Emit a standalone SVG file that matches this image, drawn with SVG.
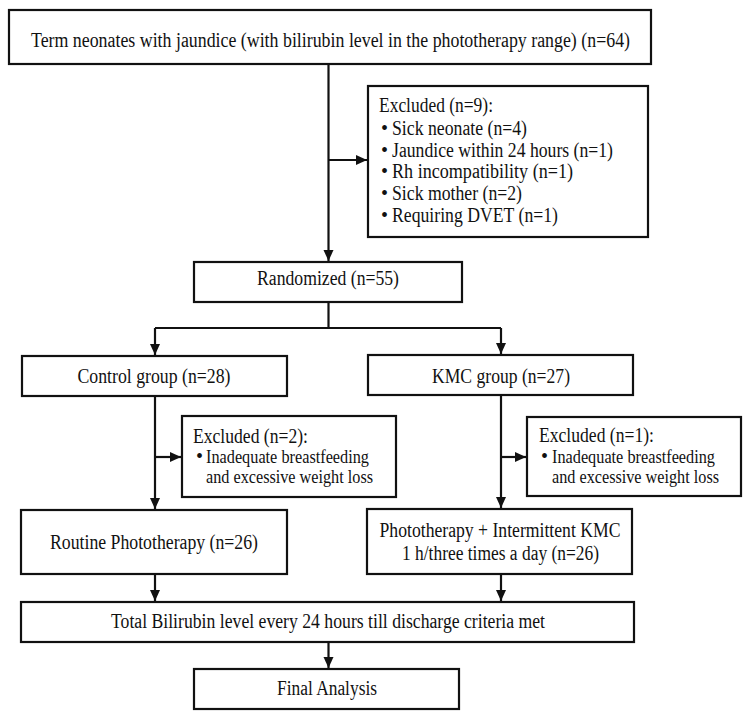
<svg xmlns="http://www.w3.org/2000/svg" width="750" height="726" viewBox="0 0 750 726">
<defs>
<style>
.box{fill:#fff;stroke:#111;stroke-width:2.2}
.ln{fill:none;stroke:#111;stroke-width:2.2}
text{font-family:"Liberation Serif","Times New Roman",serif;font-size:20px;fill:#111}
.c{text-anchor:middle}
.s{font-size:18px}
</style>
<marker id="ah" markerUnits="userSpaceOnUse" markerWidth="12" markerHeight="12" viewBox="0 0 12 12" refX="11" refY="6" orient="auto">
<path d="M0,1 L11,6 L0,11 Z" fill="#111"/>
</marker>
</defs>
<rect width="750" height="726" fill="#fff"/>
<g id="connectors">
<path class="ln" d="M328.5,64 V261" marker-end="url(#ah)"/>
<path class="ln" d="M328.5,160 H367" marker-end="url(#ah)"/>
<path class="ln" d="M328.5,302 V328 M155,328 H501"/>
<path class="ln" d="M155,328 V355" marker-end="url(#ah)"/>
<path class="ln" d="M501,328 V354" marker-end="url(#ah)"/>
<path class="ln" d="M155,396 V509" marker-end="url(#ah)"/>
<path class="ln" d="M155,457 H181" marker-end="url(#ah)"/>
<path class="ln" d="M501,395 V508" marker-end="url(#ah)"/>
<path class="ln" d="M501,457 H526" marker-end="url(#ah)"/>
<path class="ln" d="M155,574 V601" marker-end="url(#ah)"/>
<path class="ln" d="M501,574 V601" marker-end="url(#ah)"/>
<path class="ln" d="M328.5,642 V668" marker-end="url(#ah)"/>
</g>
<g id="n-term">
<rect class="box" x="9" y="10" width="642" height="54"/>
<text class="c" x="330.5" y="47" textLength="599" lengthAdjust="spacingAndGlyphs">Term neonates with jaundice (with bilirubin level in the phototherapy range) (n=64)</text>
</g>
<g id="n-excl9">
<rect class="box" x="368" y="86" width="280" height="151"/>
<text x="379" y="112" textLength="114" lengthAdjust="spacingAndGlyphs">Excluded (n=9):</text>
<text x="381" y="134.5">•</text><text x="392" y="134.5" textLength="135" lengthAdjust="spacingAndGlyphs">Sick neonate (n=4)</text>
<text x="381" y="156.5">•</text><text x="392" y="156.5" textLength="221" lengthAdjust="spacingAndGlyphs">Jaundice within 24 hours (n=1)</text>
<text x="381" y="178">•</text><text x="392" y="178" textLength="181" lengthAdjust="spacingAndGlyphs">Rh incompatibility (n=1)</text>
<text x="381" y="199.5">•</text><text x="392" y="199.5" textLength="130" lengthAdjust="spacingAndGlyphs">Sick mother (n=2)</text>
<text x="381" y="221.5">•</text><text x="392" y="221.5" textLength="166" lengthAdjust="spacingAndGlyphs">Requiring DVET (n=1)</text>
</g>
<g id="n-random">
<rect class="box" x="194" y="262" width="268" height="40"/>
<text class="c" x="328" y="285" textLength="142" lengthAdjust="spacingAndGlyphs">Randomized (n=55)</text>
</g>
<g id="n-control">
<rect class="box" x="22" y="356" width="265" height="40"/>
<text class="c" x="154" y="382.5" textLength="153" lengthAdjust="spacingAndGlyphs">Control group (n=28)</text>
</g>
<g id="n-kmc">
<rect class="box" x="368" y="355" width="265" height="40"/>
<text class="c" x="501" y="382.5" textLength="138" lengthAdjust="spacingAndGlyphs">KMC group (n=27)</text>
</g>
<g id="n-excl2">
<rect class="box" x="182" y="416" width="214" height="81"/>
<text x="193" y="443" textLength="115" lengthAdjust="spacingAndGlyphs">Excluded (n=2):</text>
<text x="196" y="463">•</text><text class="s" x="206" y="463" textLength="163" lengthAdjust="spacingAndGlyphs">Inadequate breastfeeding</text>
<text class="s" x="206" y="483" textLength="167" lengthAdjust="spacingAndGlyphs">and excessive weight loss</text>
</g>
<g id="n-excl1">
<rect class="box" x="527" y="417" width="214" height="79"/>
<text x="539" y="442" textLength="115" lengthAdjust="spacingAndGlyphs">Excluded (n=1):</text>
<text x="541" y="463">•</text><text class="s" x="552" y="463" textLength="163" lengthAdjust="spacingAndGlyphs">Inadequate breastfeeding</text>
<text class="s" x="552" y="483" textLength="167" lengthAdjust="spacingAndGlyphs">and excessive weight loss</text>
</g>
<g id="n-routine">
<rect class="box" x="21" y="510" width="266" height="64"/>
<text class="c" x="154" y="549" textLength="208" lengthAdjust="spacingAndGlyphs">Routine Phototherapy (n=26)</text>
</g>
<g id="n-photokmc">
<rect class="box" x="367" y="509" width="265" height="65"/>
<text class="c" x="500" y="537" textLength="241" lengthAdjust="spacingAndGlyphs">Phototherapy + Intermittent KMC</text>
<text class="c" x="500.5" y="560" textLength="197" lengthAdjust="spacingAndGlyphs">1 h/three times a day (n=26)</text>
</g>
<g id="n-total">
<rect class="box" x="21" y="602" width="613" height="40"/>
<text class="c" x="328" y="628" textLength="434" lengthAdjust="spacingAndGlyphs">Total Bilirubin level every 24 hours till discharge criteria met</text>
</g>
<g id="n-final">
<rect class="box" x="194" y="669" width="265" height="40"/>
<text class="c" x="327" y="695" textLength="100" lengthAdjust="spacingAndGlyphs">Final Analysis</text>
</g>
</svg>
